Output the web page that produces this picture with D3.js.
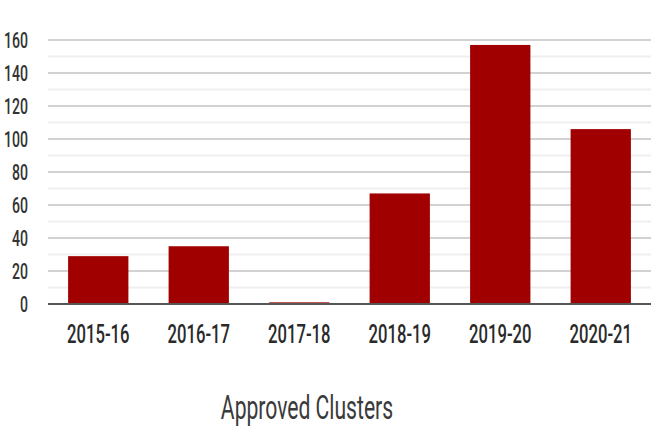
<!DOCTYPE html>
<html>
<head>
<meta charset="utf-8">
<script src="https://cdn.jsdelivr.net/npm/d3@7"></script>
<style>
  html, body { margin: 0; padding: 0; background: #fff; }
  svg { display: block; }
  text { font-family: Roboto, "Open Sans", sans-serif; }
</style>
</head>
<body>
<svg id="chart" width="660" height="440"></svg>
<script>
const categories = ["2015-16", "2016-17", "2017-18", "2018-19", "2019-20", "2020-21"];
const values = [29, 35, 1, 67, 157, 106];
const majorTicks = [0, 20, 40, 60, 80, 100, 120, 140, 160];
const minorTicks = [10, 30, 50, 70, 90, 110, 130, 150];
const axisTitle = "Approved Clusters";

const svg = d3.select("#chart");
const plotLeft = 48, plotRight = 651, plotTop = 40, plotBottom = 304;
const sx = 0.64;

const x = d3.scaleBand().domain(categories).range([plotLeft, plotRight]).paddingInner(0.4).paddingOuter(0.2);
const y = d3.scaleLinear().domain([0, 160]).range([plotBottom, plotTop]);

// minor gridlines
svg.append("g").selectAll("line").data(minorTicks).join("line")
  .attr("x1", plotLeft).attr("x2", plotRight)
  .attr("y1", d => y(d)).attr("y2", d => y(d))
  .attr("stroke", "#efefef").attr("stroke-width", 2);

// major gridlines
svg.append("g").selectAll("line").data(majorTicks.filter(d => d > 0)).join("line")
  .attr("x1", plotLeft).attr("x2", plotRight)
  .attr("y1", d => y(d)).attr("y2", d => y(d))
  .attr("stroke", "#d2d2d2").attr("stroke-width", 2);

// bars
svg.append("g").selectAll("rect").data(values).join("rect")
  .attr("x", (d, i) => x(categories[i]))
  .attr("width", x.bandwidth())
  .attr("y", d => y(d))
  .attr("height", d => y(0) - y(d))
  .attr("fill", "#a00000");

// baseline
svg.append("line")
  .attr("x1", plotLeft).attr("x2", plotRight)
  .attr("y1", y(0)).attr("y2", y(0))
  .attr("stroke", "#555").attr("stroke-width", 2);

// y labels
svg.append("g").selectAll("text").data(majorTicks).join("text")
  .attr("transform", d => `translate(28,${y(d)}) scale(${sx},1)`)
  .attr("text-anchor", "end")
  .attr("dy", "0.36em")
  .attr("font-size", 22)
  .attr("font-weight", 500)
  .attr("fill", "#333")
  .text(d => d);

// x labels
svg.append("g").selectAll("text").data(categories).join("text")
  .attr("transform", d => `translate(${x(d) + x.bandwidth() / 2},343) scale(${sx},1)`)
  .attr("text-anchor", "middle")
  .attr("font-size", 26)
  .attr("font-weight", 500)
  .attr("fill", "#2a2a2a")
  .text(d => d);

// axis title
svg.append("text")
  .attr("transform", `translate(307,419) scale(${sx},1)`)
  .attr("text-anchor", "middle")
  .attr("font-size", 33)
  .attr("font-weight", 400)
  .attr("fill", "#3a3a3a")
  .text(axisTitle);
</script>
</body>
</html>
